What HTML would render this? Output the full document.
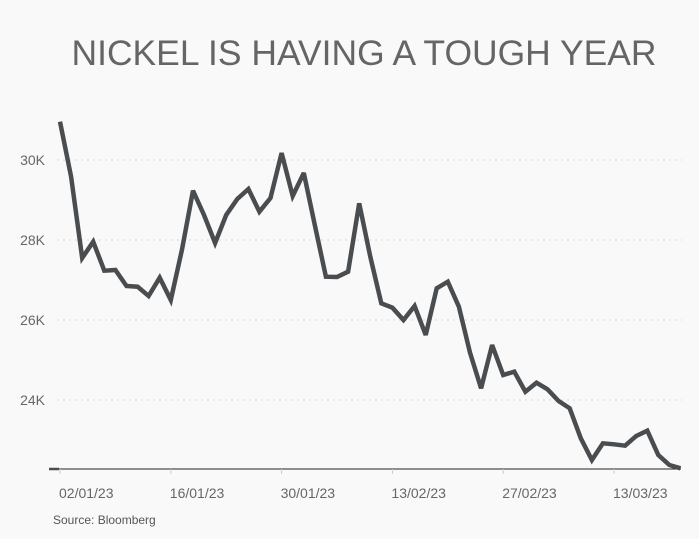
<!DOCTYPE html>
<html><head><meta charset="utf-8"><style>
html,body{margin:0;padding:0;background:#faf9f9;}
svg{display:block;font-family:"Liberation Sans",sans-serif;}
</style></head><body>
<svg id="chart" width="699" height="539" viewBox="0 0 699 539">
<rect width="699" height="539" fill="#faf9f9"/>
<text x="364" y="65" text-anchor="middle" font-size="35" fill="#656565" textLength="585" lengthAdjust="spacingAndGlyphs">NICKEL IS HAVING A TOUGH YEAR</text>
<g id="grid"></g><g id="yaxis"></g><g id="xaxis"></g><g id="series"></g>
<text x="53" y="524" font-size="12" fill="#555">Source: Bloomberg</text>
</svg>
<script>
const prices=[30958,29583,27550,27958,27233,27250,26850,26833,26600,27058,26500,27750,29233,28625,27925,28625,29025,29275,28708,29050,30175,29100,29675,28375,27083,27075,27208,28918,27583,26418,26308,26000,26350,25625,26793,26958,26333,25183,24293,25375,24625,24708,24208,24433,24268,23975,23793,23043,22500,22918,22893,22858,23100,23233,22625,22375,22293];
const yTicks=[24000,26000,28000,30000];
const yTickLabels=["24K","26K","28K","30K"];
const xTickIdx=[0,10,20,30,40,50];
const xTickLabels=["02/01/23","16/01/23","30/01/23","13/02/23","27/02/23","13/03/23"];
const NS="http://www.w3.org/2000/svg";
const x=i=>60+i*(620.5/56);
const y=v=>160+(30000-v)*0.04;
function mk(t,a,p){const e=document.createElementNS(NS,t);for(const k in a)e.setAttribute(k,a[k]);p.appendChild(e);return e;}
const grid=document.getElementById('grid'),ya=document.getElementById('yaxis'),xa=document.getElementById('xaxis'),se=document.getElementById('series');
yTicks.forEach((v,i)=>{
 const l=mk('line',{x1:57,x2:682,y1:y(v),y2:y(v),stroke:'#d8d8d8','stroke-width':1,'stroke-dasharray':'2,4'},grid);
 
 
 const t=mk('text',{x:45,y:y(v)+5,'text-anchor':'end','font-size':14,fill:'#666'},ya);
 t.textContent=yTickLabels[i];
 
 
});
const base=mk('line',{x1:59,x2:681,y1:469,y2:469,stroke:'#222','stroke-width':1},xa);


const dash=mk('line',{x1:49,x2:59,y1:469,y2:469,stroke:'#4a4d50','stroke-width':2.5},xa);


xTickIdx.forEach((idx,i)=>{
 const tk=mk('line',{x1:x(idx),x2:x(idx),y1:469,y2:474,stroke:'#ccc','stroke-width':1},xa);
 
 
 const t=mk('text',{x:x(idx)-1,y:498,'font-size':14,fill:'#666'},xa);
 t.textContent=xTickLabels[i];
 
 
});
const pts=prices.map((v,i)=>x(i).toFixed(1)+','+y(v).toFixed(1)).join(' ');
const pl=mk('polyline',{points:pts,fill:'none',stroke:'#4a4d50','stroke-width':4.5,'stroke-linejoin':'miter','stroke-miterlimit':3},se);


</script>
</body></html>
